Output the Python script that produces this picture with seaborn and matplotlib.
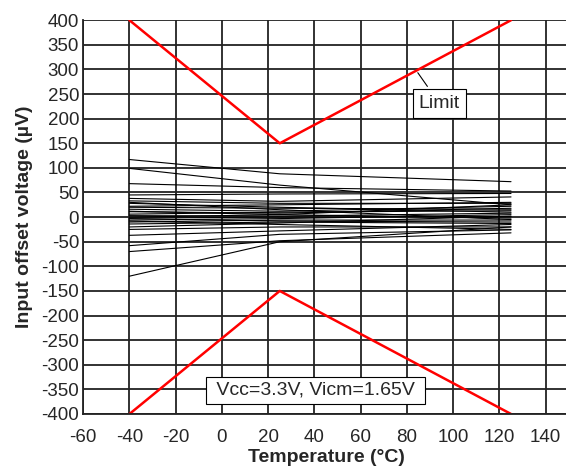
import pandas as pd
import matplotlib.pyplot as plt
import seaborn as sns
import numpy as np

# temperature points for each unit
temps = [-40, 25, 125]

# offset voltage (uV) of each unit at -40, 25 and 125 C
vos_m40 = [117, 99, 68, 45, 38, 33, 28, 22, 16, 11, 6, 3, -2, -6, -10, -14,
           -20, -25, -37, -58, -70, -120, 30, -3, 12, 20, 0, -8]
vos_25 = [88, 65, 60, 47, 32, 28, 20, 25, 12, 8, 10, 2, 0, -3, -6, -10,
          -12, -20, -28, -35, -48, -50, 15, -8, 5, 18, 5, -15]
vos_125 = [72, 25, 53, 48, 41, 28, 10, 30, 22, 18, 13, 8, 1, 5, -6, -13,
           2, -20, -15, -26, -32, -20, -5, -10, -2, 16, 25, -25]

# limit lines
limit_t = [-40, 25, 125]
limit_hi = [400, 150, 400]
limit_lo = [-400, -150, -400]

rows = []
for i in range(len(vos_m40)):
    for t, v in zip(temps, [vos_m40[i], vos_25[i], vos_125[i]]):
        rows.append({'unit': i, 'temp': t, 'vos': v})
df = pd.DataFrame(rows)

sns.set_style('white')
plt.rcParams['font.family'] = ['Liberation Sans', 'DejaVu Sans']
plt.rcParams['axes.unicode_minus'] = False

fig = plt.figure(figsize=(5.66, 4.66), dpi=100)
ax = fig.add_axes([0.147, 0.1116, 0.858, 0.845])

sns.lineplot(data=df, x='temp', y='vos', units='unit', estimator=None,
             color='black', lw=0.8, ax=ax, legend=False)
ax.plot(limit_t, limit_hi, color='red', lw=1.8)
ax.plot(limit_t, limit_lo, color='red', lw=1.8)

ax.set_xlim(-60, 150)
ax.set_ylim(-400, 400)
ax.set_xticks(np.arange(-60, 141, 20))
ax.set_yticks(np.arange(-400, 401, 50))
ax.grid(True, color='#222222', lw=1.3)
ax.set_axisbelow(True)
for s in ['top', 'right']:
    ax.spines[s].set_visible(False)
for s in ['left', 'bottom']:
    ax.spines[s].set_color('#222222')
    ax.spines[s].set_linewidth(1.3)
ax.tick_params(length=0, labelsize=13.5)
ax.tick_params(axis='x', pad=11)
ax.tick_params(axis='y', pad=3)

ax.set_xlabel('Temperature (°C)', fontsize=14, fontweight='bold', labelpad=2)
ax.set_ylabel('Input offset voltage (µV)', fontsize=14, fontweight='bold', labelpad=6)

ax.annotate('Limit', xy=(84, 298), xytext=(94, 231), fontsize=14,
            ha='center', va='center',
            bbox=dict(boxstyle='square,pad=0.3', fc='white', ec='black', lw=0.8),
            arrowprops=dict(arrowstyle='-', color='black', lw=0.8))
ax.text(40.5, -352, ' Vcc=3.3V, Vicm=1.65V ', fontsize=14, ha='center', va='center',
        bbox=dict(boxstyle='square,pad=0.25', fc='white', ec='black', lw=0.8))

plt.savefig('out.png', dpi=100)
